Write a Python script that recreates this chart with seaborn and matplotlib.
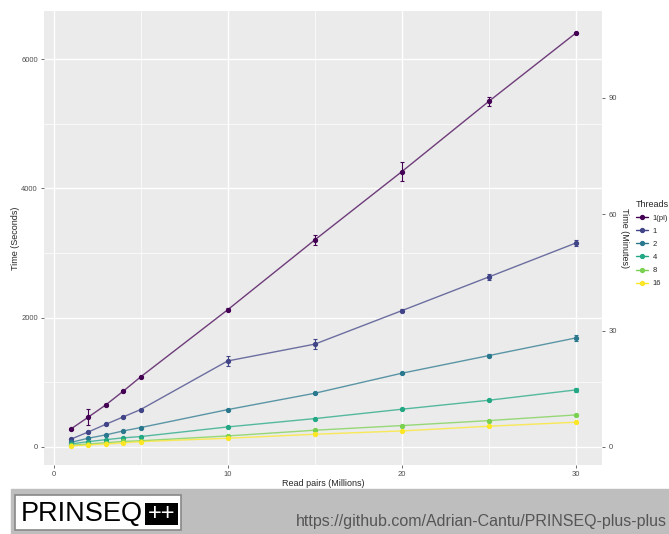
import numpy as np
import pandas as pd
import seaborn as sns
import matplotlib.pyplot as plt
from matplotlib.patches import Rectangle
from matplotlib.ticker import MultipleLocator, FixedLocator
from matplotlib.lines import Line2D

# read pairs (millions)
reads = [1, 2, 3, 4, 5, 10, 15, 20, 25, 30]
threads = ["1(pl)", "1", "2", "4", "8", "16"]

# mean run time in seconds per thread setting
time_1pl = [278, 462, 650, 862, 1083, 2122, 3202, 4259, 5347, 6404]
time_1 = [120, 232, 350, 464, 578, 1330, 1590, 2108, 2630, 3155]
time_2 = [70, 135, 186, 247, 299, 577, 830, 1140, 1413, 1686]
time_4 = [45, 82, 112, 140, 160, 309, 438, 583, 722, 882]
time_8 = [25, 45, 65, 85, 95, 170, 258, 330, 407, 495]
time_16 = [15, 30, 45, 62, 82, 134, 196, 247, 320, 382]

# standard deviation (seconds)
sd_1pl = [10, 118, 12, 15, 15, 20, 77, 147, 72, 15]
sd_1 = [8, 10, 10, 12, 12, 80, 72, 20, 45, 50]
sd_2 = [5, 5, 5, 6, 6, 10, 12, 15, 18, 40]
sd_4 = [3, 3, 4, 4, 4, 6, 8, 10, 12, 25]
sd_8 = [2, 2, 3, 3, 3, 4, 5, 6, 8, 10]
sd_16 = [2, 2, 2, 3, 3, 4, 5, 6, 6, 8]

means = [time_1pl, time_1, time_2, time_4, time_8, time_16]
sds = [sd_1pl, sd_1, sd_2, sd_4, sd_8, sd_16]

rows = []
for t, m, s in zip(threads, means, sds):
    for x, v, e in zip(reads, m, s):
        rows.append({"reads": x, "time": v, "sd": e, "Threads": t})
df = pd.DataFrame(rows)

palette = ["#440154", "#414487", "#2A788E", "#22A884", "#7AD151", "#FDE725"]
pal = dict(zip(threads, palette))

sns.set_theme(style="darkgrid")
plt.rcParams['font.family'] = ['Liberation Sans', 'DejaVu Sans']

fig = plt.figure(figsize=(6.69, 5.34), dpi=100)
ax = fig.add_axes([44 / 669, 69 / 534, 558 / 669, 454 / 534])
ax.set_facecolor("#EBEBEB")

sns.lineplot(data=df, x="reads", y="time", hue="Threads", hue_order=threads,
             palette=pal, ax=ax, lw=1.0, alpha=0.75, legend=False, errorbar=None)
for t in threads:
    d = df[df["Threads"] == t]
    ax.errorbar(d["reads"], d["time"], yerr=d["sd"], fmt="o", ms=2.8,
                color=pal[t], ecolor=pal[t], elinewidth=0.8, capsize=1.2,
                capthick=0.8, zorder=3)

ax.set_xlim(-0.55, 31.5)
ax.set_ylim(-280, 6745)
ax.xaxis.set_major_locator(FixedLocator([0, 10, 20, 30]))
ax.xaxis.set_minor_locator(FixedLocator([5, 15, 25]))
ax.yaxis.set_major_locator(MultipleLocator(2000))
ax.yaxis.set_minor_locator(MultipleLocator(1000))
ax.grid(which="major", color="white", lw=1.0)
ax.grid(which="minor", color="white", lw=0.5)
for sp in ax.spines.values():
    sp.set_visible(False)
ax.tick_params(axis="both", which="major", labelsize=5.5, labelcolor="#4D4D4D",
               color="#333333", length=2.5, width=0.5, pad=2,
               bottom=True, left=True)
ax.tick_params(which="minor", length=0)
ax.set_xlabel("Read pairs (Millions)", fontsize=6.5, labelpad=0.5)
ax.set_ylabel("Time (Seconds)", fontsize=6.5, labelpad=1)

sec = ax.secondary_yaxis("right", functions=(lambda s: s / 60, lambda m: m * 60))
sec.yaxis.set_major_locator(FixedLocator([0, 30, 60, 90]))
sec.tick_params(labelsize=5.5, labelcolor="#4D4D4D", color="#333333",
                length=2.5, width=0.5, pad=2)
for sp in sec.spines.values():
    sp.set_visible(False)
sec.set_ylabel("Time (Minutes)", fontsize=6.5, rotation=270, labelpad=9)

handles = [Line2D([0], [0], color=pal[t], marker="o", ms=2.8, lw=1.0) for t in threads]
leg = fig.legend(handles, threads, title="Threads", loc="upper left",
                 bbox_to_anchor=(632 / 669, 1 - 196 / 534), frameon=False,
                 fontsize=5.5, title_fontsize=6.5, handlelength=1.6,
                 labelspacing=0.75, handletextpad=0.6, borderpad=0)
leg._legend_box.align = "left"

# banner at the bottom
fig.patches.append(Rectangle((11 / 669, 0), 1, 45 / 534, transform=fig.transFigure,
                             color="#BEBEBE", zorder=0))
fig.patches.append(Rectangle((15 / 669, 4 / 534), 166 / 669, 35 / 534,
                             transform=fig.transFigure, facecolor="white",
                             edgecolor="#888888", lw=1.2, zorder=1))
fig.patches.append(Rectangle((145 / 669, 9 / 534), 33 / 669, 22 / 534,
                             transform=fig.transFigure, facecolor="black",
                             edgecolor="none", zorder=2))
fig.text(21 / 669, 20 / 534, "PRINSEQ", fontsize=19.5, color="black",
         va="center", ha="left", zorder=3)
fig.text(161.5 / 669, 20.5 / 534, "++", fontsize=17, color="white",
         va="center", ha="center", zorder=3)
fig.text(667 / 669, 8 / 534, "https://github.com/Adrian-Cantu/PRINSEQ-plus-plus",
         fontsize=11.5, color="#555555", ha="right", va="baseline", zorder=3)

fig.savefig("out.png", dpi=100)
